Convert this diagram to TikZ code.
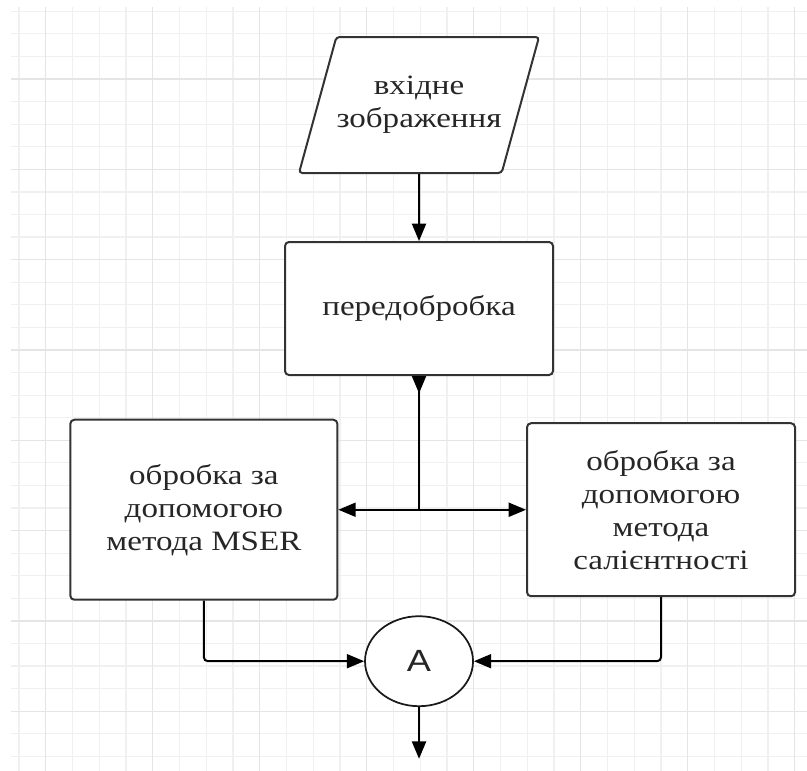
\documentclass[tikz,border=0pt]{standalone}
\usepackage{fontspec}
\setmainfont{Liberation Serif}[FakeStretch=1.18]
\newfontfamily\markfont{Liberation Sans}[FakeStretch=1.18]
\usepackage{tikz}
\usetikzlibrary{positioning,shapes.geometric,arrows.meta}
\tikzset{
gridminor/.style={draw=black!6,line width=0.9pt},
gridmajor/.style={draw=black!10,line width=0.9pt},
inblock/.style={trapezium,trapezium left angle=57,trapezium right angle=123,trapezium stretches body,
draw=black!80,line width=1.5pt,rounded corners=2.5pt,minimum width=180pt,minimum height=102pt,inner sep=0pt,align=center,fill=white},
procblock/.style={rectangle,draw=black!80,line width=1.5pt,rounded corners=3pt,inner sep=0pt,align=center,fill=white},
joint/.style={ellipse,draw=black!90,line width=1.3pt,minimum width=81pt,minimum height=67.5pt,inner sep=0pt,
font=\markfont\fontsize{23}{26}\selectfont,fill=white},
flowline/.style={black,line width=1.5pt,rounded corners=3pt},
flowarrow/.style={flowline,-{Triangle[length=13pt,width=10.5pt]}}
}
\begin{document}
\begin{tikzpicture}[x=0.75pt,y=-0.75pt,every node/.style={font=\fontsize{21}{24.75}\selectfont,text=black!85}]
\useasboundingbox (0,0) rectangle (807,771);
\foreach \gx in {18.95,45.7,...,807} \draw[gridminor] (\gx,7) -- (\gx,771);
\foreach \gy in {11.26,33.84,...,771} \draw[gridminor] (11,\gy) -- (807,\gy);
\foreach \gx in {45.7,152.7,...,807} \draw[gridmajor] (\gx,7) -- (\gx,771);
\foreach \gy in {79,169.32,...,771} \draw[gridmajor] (11,\gy) -- (807,\gy);
\node[inblock] (input) at (419,105) {вхідне\\зображення};
\node[procblock,minimum width=201pt,minimum height=99.75pt,below=50.25pt of input] (prep) {передобробка};
\coordinate[below=100.3pt of prep] (split);
\node[procblock,minimum width=200.25pt,minimum height=135pt,left=60.5pt of split] (mser) {обробка за\\допомогою\\метода MSER};
\node[procblock,minimum width=201pt,minimum height=129.75pt,right=80.25pt of split] (sal) {обробка за\\допомогою\\метода\\салієнтності};
\node[joint,below=79.2pt of split] (join) {A};
\coordinate[below=38.8pt of join] (out);
\draw[flowarrow] (input) -- (prep);
\draw[flowline,{Triangle[reversed,length=13pt,width=10.5pt]}-] (prep) -- (split);
\draw[flowarrow] (split) -- (mser);
\draw[flowarrow] (split) -- (sal);
\draw[flowarrow] (mser) |- (join);
\draw[flowarrow] (sal) |- (join);
\draw[flowarrow] (join) -- (out);
\end{tikzpicture}
\end{document}
